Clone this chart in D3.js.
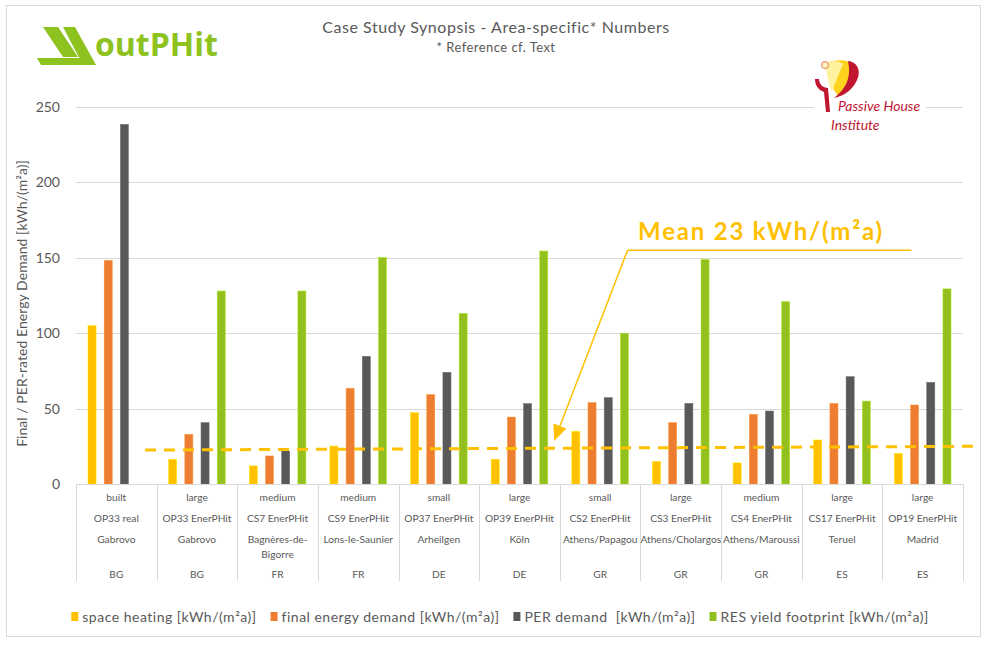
<!DOCTYPE html>
<html><head><meta charset="utf-8">
<script src="https://cdn.jsdelivr.net/npm/d3@7"></script>
<style>
body{margin:0;background:#fff;}
svg{display:block;font-family:Lato,"Open Sans",sans-serif;}
</style>
</head><body><svg id="c" width="986" height="646"></svg>
<script>
// ---- data ----
const sizes     = ["built","large","medium","medium","small","large","small","large","medium","large","large"];
const projects  = ["OP33 real","OP33 EnerPHit","CS7 EnerPHit","CS9 EnerPHit","OP37 EnerPHit","OP39 EnerPHit","CS2 EnerPHit","CS3 EnerPHit","CS4 EnerPHit","CS17 EnerPHit","OP19 EnerPHit"];
const cities    = ["Gabrovo","Gabrovo","Bagnères-de-|Bigorre","Lons-le-Saunier","Arheilgen","Köln","Athens/Papagou","Athens/Cholargos","Athens/Maroussi","Teruel","Madrid"];
const countries = ["BG","BG","FR","FR","DE","DE","GR","GR","GR","ES","ES"];

const spaceHeating = [105,16.4,12,25.2,47.3,16.4,35,15,14,29.2,20.3];
const finalEnergy  = [148.3,33,18.6,63.5,59.3,44.4,54,40.7,46.2,53.5,52.4];
const perDemand    = [238.5,40.7,21.9,84.7,74.1,53.3,57.3,53.5,48.4,71.2,67.4];
const resYield     = [0,128,128,150.3,113.2,154.5,100,149,121,55,129.4];

const seriesNames  = ["space heating [kWh/(m²a)]","final energy demand [kWh/(m²a)]","PER demand  [kWh/(m²a)]","RES yield footprint [kWh/(m²a)]"];
const seriesColors = ["#FFC000","#ED7D31","#595959","#93C01F"];
const yTicks = [0,50,100,150,200,250];

// mean line (category position, value)
const meanLine = [{pos:0.856, v:22.5},{pos:11.18, v:25}];
const meanLabel = "Mean 23 kWh/(m²a)";

// ---- layout ----
const svg = d3.select("#c");
const L = 76, R = 963, T = 107, B = 484;
const series = [spaceHeating, finalEnergy, perDemand, resYield];

svg.append("rect").attr("x",6.5).attr("y",5.5).attr("width",974).attr("height",631)
  .attr("fill","#fff").attr("stroke","#d9d9d9").attr("stroke-width",1);

const x0 = d3.scaleBand().domain(d3.range(projects.length)).range([L,R]).paddingInner(0).paddingOuter(0);
const x1 = d3.scaleBand().domain(d3.range(4)).range([0,x0.bandwidth()]).paddingInner(0.5).paddingOuter(0.74);
const y = d3.scaleLinear().domain([0,250]).range([B,T]);
const xIdx = d3.scaleLinear().domain([0,projects.length]).range([L,R]);

// gridlines
svg.append("g").selectAll("line").data(yTicks.filter(d=>d>0)).join("line")
  .attr("x1",L).attr("x2",R).attr("y1",d=>Math.round(y(d))+0.5).attr("y2",d=>Math.round(y(d))+0.5)
  .attr("stroke","#d9d9d9").attr("stroke-width",1);

// y axis labels
const yAxis = svg.append("g").attr("transform",`translate(${L},0)`)
  .call(d3.axisLeft(y).tickValues(yTicks).tickSize(0).tickPadding(16));
yAxis.select(".domain").remove();
yAxis.selectAll("text").attr("font-size",14).attr("fill","#595959").attr("font-family","Lato");

svg.append("text").attr("transform",`translate(27,${(T+B)/2+8}) rotate(-90)`)
  .attr("text-anchor","middle").attr("font-size",14).attr("letter-spacing",0.05).attr("fill","#595959")
  .text("Final / PER-rated Energy Demand [kWh/(m²a)]");

// bars
const gBars = svg.append("g");
series.forEach((s,si)=>{
  gBars.append("g").selectAll("rect").data(s.map((v,i)=>({v,i}))).join("rect")
    .attr("x",d=>x0(d.i)+x1(si))
    .attr("width",x1.bandwidth())
    .attr("y",d=>y(d.v))
    .attr("height",d=>y(0)-y(d.v))
    .attr("fill",seriesColors[si])
    .attr("stroke",d3.color(seriesColors[si]).brighter(0.6))
    .attr("stroke-width",0.5);
});

// category axis table
const gx = svg.append("g").attr("stroke","#d9d9d9").attr("stroke-width",1);
gx.append("line").attr("x1",L).attr("x2",R).attr("y1",B+0.5).attr("y2",B+0.5);
gx.selectAll(".sep").data(d3.range(projects.length+1)).join("line")
  .attr("x1",d=>Math.round(xIdx(d))+0.5).attr("x2",d=>Math.round(xIdx(d))+0.5)
  .attr("y1",B).attr("y2",581);

const gl = svg.append("g").attr("font-size",10.2).attr("fill","#595959").attr("text-anchor","middle");
projects.forEach((p,i)=>{
  const cx = x0(i)+x0.bandwidth()/2;
  gl.append("text").attr("x",cx).attr("y",501).text(sizes[i]);
  gl.append("text").attr("x",cx).attr("y",522).text(p);
  const c = cities[i].split("|");
  c.forEach((t,k)=>gl.append("text").attr("x",cx).attr("y",543+k*15).text(t));
  gl.append("text").attr("x",cx).attr("y",578).text(countries[i]);
});

// mean dashed line
svg.append("line")
  .attr("x1",xIdx(meanLine[0].pos)).attr("y1",y(meanLine[0].v))
  .attr("x2",xIdx(meanLine[1].pos)).attr("y2",y(meanLine[1].v))
  .attr("stroke","#FFC000").attr("stroke-width",3).attr("stroke-dasharray","11,8");

// annotation
const ax = xIdx(6.84), ay = y(155);
const tipX = xIdx(5.93), tipY = y(28.5);
svg.append("line").attr("x1",ax).attr("y1",ay).attr("x2",xIdx(10.36)).attr("y2",ay)
  .attr("stroke","#FFC000").attr("stroke-width",1.5);
const ang = Math.atan2(tipY-ay, tipX-ax);
const bx = tipX - 16*Math.cos(ang), by = tipY - 16*Math.sin(ang);
svg.append("line").attr("x1",ax).attr("y1",ay).attr("x2",bx).attr("y2",by)
  .attr("stroke","#FFC000").attr("stroke-width",1.5);
const px = -Math.sin(ang)*7, py = Math.cos(ang)*7;
svg.append("path").attr("d",`M${tipX},${tipY}L${bx+px},${by+py}L${bx-px},${by-py}Z`).attr("fill","#FFC000");
svg.append("text").attr("x",xIdx(6.97)).attr("y",y(161.5)).attr("font-size",24).attr("font-weight","bold")
  .attr("letter-spacing",1.8).attr("fill","#FFC000").text(meanLabel);

// title
svg.append("text").attr("x",496).attr("y",33).attr("text-anchor","middle").attr("font-size",16)
  .attr("letter-spacing",0.55).attr("fill","#595959").text("Case Study Synopsis - Area-specific* Numbers");
svg.append("text").attr("x",496).attr("y",52).attr("text-anchor","middle").attr("font-size",13)
  .attr("letter-spacing",0.45).attr("fill","#595959").text("* Reference cf. Text");

// legend
const lg = svg.append("g");
const items = [];
seriesNames.forEach((n,i)=>{
  const g = lg.append("g");
  g.append("rect").attr("x",0).attr("y",-10).attr("width",7).attr("height",9).attr("fill",seriesColors[i]);
  const t = g.append("text").attr("x",11).attr("y",0).attr("font-size",14).attr("letter-spacing",0.5)
    .attr("fill","#595959").style("white-space","pre").text(n);
  items.push({g,w:11+t.node().getComputedTextLength()});
});
const gap = 14;
let total = d3.sum(items,d=>d.w) + gap*(items.length-1);
let sx = 500 - total/2;
items.forEach(it=>{ it.g.attr("transform",`translate(${sx},622)`); sx += it.w + gap; });

// outPHit logo
const logo = svg.append("g").attr("fill","#8DC21F");
logo.append("path").attr("d","M43,27 L58,27 L78,57 L63,57 Z");
logo.append("path").attr("d","M37,58 L80,58 L84,65 L41,65 Z");
logo.append("path").attr("d","M63,27 L75,27 L96,65 L83,65 Z");
logo.append("text").attr("x",95).attr("y",56).attr("font-size",32).attr("font-weight","bold")
  .attr("font-family","Open Sans").attr("fill","#8DC21F").text("outPHit");

// Passive House Institute logo
const phi = svg.append("g");
phi.append("rect").attr("x",814).attr("y",56).attr("width",112).attr("height",78).attr("fill","#fff");
phi.append("path").attr("d","M826,63 C838,58 852,60 856,66 C852,80 846,90 838,96 C832,88 826,76 826,63 Z").attr("fill","#FFD21F");
phi.append("path").attr("d","M826,63 C834,60 840,61 843,64 C838,76 834,86 832,92 C829,84 826,74 826,63 Z").attr("fill","#FFF3A0");
phi.append("path").attr("d","M848,61 C858,62 862,72 856,82 C852,90 844,96 834,98 C844,90 852,80 848,61 Z").attr("fill","#C0162F");
phi.append("path").attr("d","M815,79 L819,79 C819,84 823,88 828,88 L830,112 L826,112 L824,92 C818,90 815,85 815,79 Z").attr("fill","#C0162F");
phi.append("circle").attr("cx",825).attr("cy",65).attr("r",3.5).attr("fill","#FFF3C0").attr("stroke","#E06040").attr("stroke-width",0.8);
phi.append("text").attr("x",838).attr("y",111).attr("font-size",14).attr("font-style","italic")
  .attr("fill","#C0162F").text("Passive House");
phi.append("text").attr("x",831).attr("y",130).attr("font-size",14).attr("font-style","italic")
  .attr("fill","#C0162F").text("Institute");
</script></body></html>
